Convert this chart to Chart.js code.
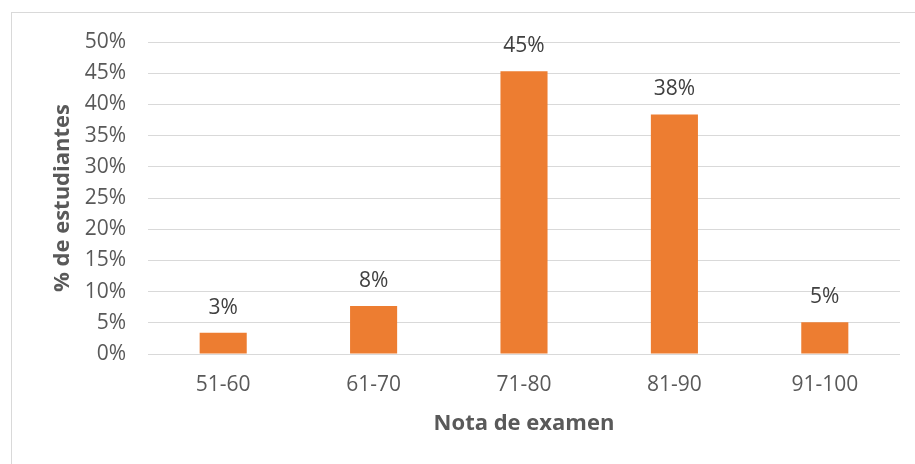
<!DOCTYPE html>
<html>
<head>
<meta charset="utf-8">
<script src="https://cdn.jsdelivr.net/npm/chart.js@4/dist/chart.umd.min.js"></script>
<style>
  html, body { margin: 0; padding: 0; background: #ffffff; }
  #wrap { position: relative; width: 915px; height: 464px; }
</style>
</head>
<body>
<div id="wrap"><canvas id="c" width="915" height="464"></canvas></div>
<script>
const categories = ["51-60", "61-70", "71-80", "81-90", "91-100"];
const percentStudents = [3.4, 7.7, 45.3, 38.4, 5.1];
const dataLabels = ["3%", "8%", "45%", "38%", "5%"];
const yTicks = [0, 5, 10, 15, 20, 25, 30, 35, 40, 45, 50];
const xTitle = "Nota de examen";
const yTitle = "% de estudiantes";

const FONT = "'Open Sans', 'DejaVu Sans', sans-serif";

const frame = {
  id: 'frame',
  beforeDraw(chart) {
    const ctx = chart.ctx;
    ctx.save();
    ctx.fillStyle = '#ffffff';
    ctx.fillRect(0, 0, chart.width, chart.height);
    ctx.strokeStyle = '#D9D9D9';
    ctx.lineWidth = 1;
    ctx.strokeRect(11.5, 12.5, 1200, 1200);
    ctx.restore();
  }
};

const valueLabels = {
  id: 'valueLabels',
  afterDatasetsDraw(chart) {
    const ctx = chart.ctx;
    const meta = chart.getDatasetMeta(0);
    ctx.save();
    ctx.font = "21px " + FONT;
    ctx.fillStyle = '#404040';
    ctx.textAlign = 'center';
    ctx.textBaseline = 'middle';
    meta.data.forEach((bar, i) => {
      ctx.fillText(dataLabels[i], bar.x, bar.y - 25);
    });
    ctx.restore();
  }
};

new Chart(document.getElementById('c'), {
  type: 'bar',
  data: {
    labels: categories,
    datasets: [{
      data: percentStudents,
      backgroundColor: '#ED7D31',
      borderWidth: 0,
      barPercentage: 1,
      categoryPercentage: 0.313
    }]
  },
  options: {
    responsive: false,
    animation: false,
    devicePixelRatio: 1,
    layout: { padding: { top: 42, right: 15, bottom: 0, left: 0 } },
    plugins: { legend: { display: false }, tooltip: { enabled: false } },
    scales: {
      x: {
        grid: { display: false, drawTicks: false },
        border: { display: false },
        ticks: { color: '#595959', font: { family: FONT, size: 21 }, padding: 18 },
        title: { display: true, text: xTitle, color: '#595959',
                 font: { family: FONT, size: 22, weight: 'bold' }, padding: { top: 0, bottom: 27 } },
        afterFit(scale) { scale.height = 110; }
      },
      y: {
        min: 0, max: 50,
        afterBuildTicks(scale) { scale.ticks = yTicks.map(v => ({ value: v })); },
        grid: { color: '#D9D9D9', lineWidth: 1, drawTicks: false },
        border: { display: false },
        ticks: { color: '#595959', font: { family: FONT, size: 21 }, padding: 22,
                 callback: v => v + '%' },
        title: { display: true, text: yTitle, color: '#595959',
                 font: { family: FONT, size: 22, weight: 'bold' }, padding: { top: 50, bottom: 0 } },
        afterFit(scale) { scale.width = 148; }
      }
    }
  },
  plugins: [frame, valueLabels]
});
</script>
</body>
</html>
